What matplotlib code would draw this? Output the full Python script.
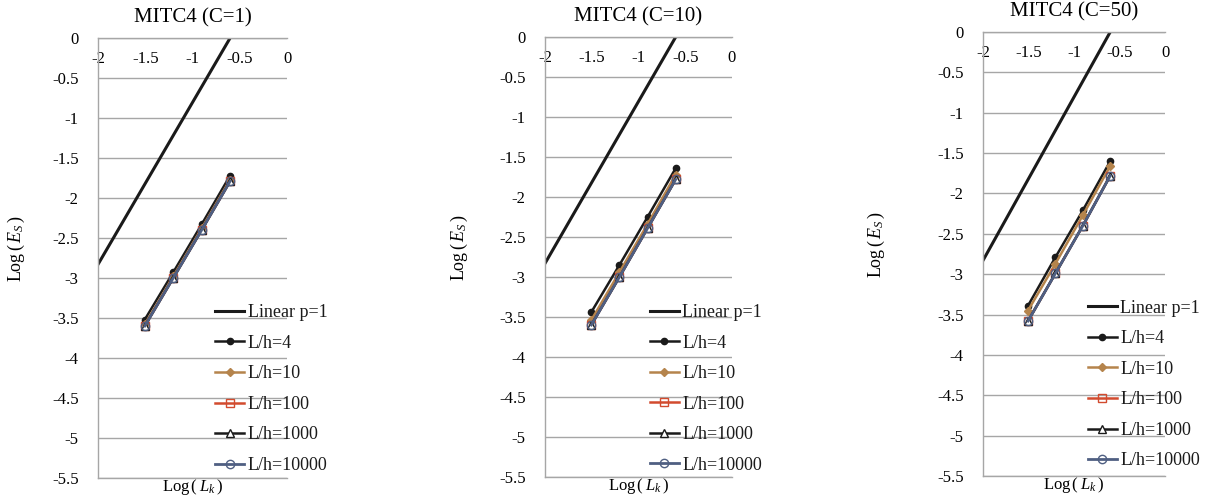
import matplotlib
matplotlib.use("Agg")
import matplotlib.pyplot as plt

plt.rcParams['font.family'] = ['Liberation Serif', 'DejaVu Serif']
plt.rcParams['mathtext.fontset'] = 'custom'
plt.rcParams['mathtext.rm'] = 'Liberation Serif'
plt.rcParams['mathtext.it'] = 'Liberation Serif:italic'

# ---- data ----
log_lk = [-1.505, -1.204, -0.903, -0.602]
linear_x = [-2.0, -0.602]
linear_y = [-2.83, 0.0]

titles = ["MITC4 (C=1)", "MITC4 (C=10)", "MITC4 (C=50)"]
series_names = ["L/h=4", "L/h=10", "L/h=100", "L/h=1000", "L/h=10000"]

c1_lh4 = [-3.52, -2.93, -2.33, -1.72]
c1_lh10 = [-3.58, -2.98, -2.38, -1.77]
c1_lh100 = [-3.60, -3.00, -2.40, -1.79]
c1_lh1000 = [-3.60, -3.00, -2.40, -1.79]
c1_lh10000 = [-3.60, -3.00, -2.40, -1.79]

c10_lh4 = [-3.44, -2.85, -2.25, -1.64]
c10_lh10 = [-3.54, -2.94, -2.34, -1.72]
c10_lh100 = [-3.60, -3.00, -2.39, -1.78]
c10_lh1000 = [-3.60, -3.00, -2.39, -1.78]
c10_lh10000 = [-3.60, -3.00, -2.39, -1.78]

c50_lh4 = [-3.39, -2.79, -2.21, -1.60]
c50_lh10 = [-3.45, -2.87, -2.27, -1.66]
c50_lh100 = [-3.58, -2.99, -2.40, -1.78]
c50_lh1000 = [-3.58, -2.99, -2.40, -1.78]
c50_lh10000 = [-3.58, -2.99, -2.40, -1.78]

panels = [
    [c1_lh4, c1_lh10, c1_lh100, c1_lh1000, c1_lh10000],
    [c10_lh4, c10_lh10, c10_lh100, c10_lh1000, c10_lh10000],
    [c50_lh4, c50_lh10, c50_lh100, c50_lh1000, c50_lh10000],
]

x_ticks = [-2, -1.5, -1, -0.5, 0]
x_ticklabels = ["-2", "-1.5", "-1", "-0.5", "0"]
y_ticks = [0, -0.5, -1, -1.5, -2, -2.5, -3, -3.5, -4, -4.5, -5, -5.5]
y_ticklabels = ["0", "-0.5", "-1", "-1.5", "-2", "-2.5", "-3", "-3.5", "-4", "-4.5", "-5", "-5.5"]

# ---- styles ----
styles = [
    dict(color='#1a1a1a', marker='o', ms=4.5, mfc='#1a1a1a', mec='#1a1a1a', lw=1.8),
    dict(color='#B5844C', marker='D', ms=3.8, mfc='#B5844C', mec='#B5844C', lw=1.8),
    dict(color='#D24B2E', marker='s', ms=6, mfc='none', mec='#D24B2E', lw=1.8),
    dict(color='#1a1a1a', marker='^', ms=6, mfc='white', mec='#1a1a1a', lw=1.8),
    dict(color='#4F5F82', marker='o', ms=6, mfc='none', mec='#4F5F82', lw=2.0),
]

W, H = 1221, 498
fig = plt.figure(figsize=(W / 100, H / 100), dpi=100)

# pixel boxes: left, right, top, bottom
boxes = [(98, 287, 38, 478), (545, 732, 37, 477), (983, 1165, 32, 476)]
legend_anchor = [(0.62, 0.395), (0.56, 0.393), (0.575, 0.397)]
ylabel_x = [-0.375, -0.40, -0.53]

grid_col = '#a6a6a6'

for i, ax_box in enumerate(boxes):
    l, r, t, b = ax_box
    ax = fig.add_axes([l / W, (H - b) / H, (r - l) / W, (b - t) / H])
    ax.set_xlim(-2, 0)
    ax.set_ylim(-5.5, 0)
    ax.set_yticks(y_ticks)
    ax.set_yticklabels(y_ticklabels)
    ax.set_xticks(x_ticks)
    ax.set_xticklabels(x_ticklabels)
    ax.tick_params(axis='y', length=0, pad=14, labelsize=12)
    ax.tick_params(axis='x', length=0, bottom=False, labelbottom=False,
                   top=True, labeltop=True, pad=-21, labelsize=12)
    ax.grid(axis='y', color=grid_col, lw=1.0)
    ax.set_axisbelow(True)
    ax.spines['right'].set_visible(False)
    for s in ['top', 'left', 'bottom']:
        ax.spines[s].set_color(grid_col)
        ax.spines[s].set_linewidth(1.0)

    ax.plot(linear_x, linear_y, color='#1a1a1a', lw=2.2, label='Linear p=1')
    for name, vals, st in zip(series_names, panels[i], styles):
        ax.plot(log_lk, vals, label=name, **st)

    ax.text(0.5, 1.0 + 20 / (b - t), titles[i], transform=ax.transAxes,
            ha='center', va='center', fontsize=15)
    ax.set_ylabel(r'Log$\,(\,E_S\,)$', fontsize=13)
    ax.yaxis.set_label_coords(ylabel_x[i], 0.52)
    ax.text(0.5, -9 / (b - t), r'Log$\,(\;L_k\,)$', transform=ax.transAxes,
            ha='center', va='center', fontsize=12)

    leg = ax.legend(loc='upper left', bbox_to_anchor=legend_anchor[i],
                    frameon=False, fontsize=13, handlelength=1.6,
                    handletextpad=0.2, labelspacing=0.75, borderpad=0,
                    borderaxespad=0)
    for txt in leg.get_texts():
        txt.set_color('#1a1a1a')

fig.savefig('out.png', dpi=100)
